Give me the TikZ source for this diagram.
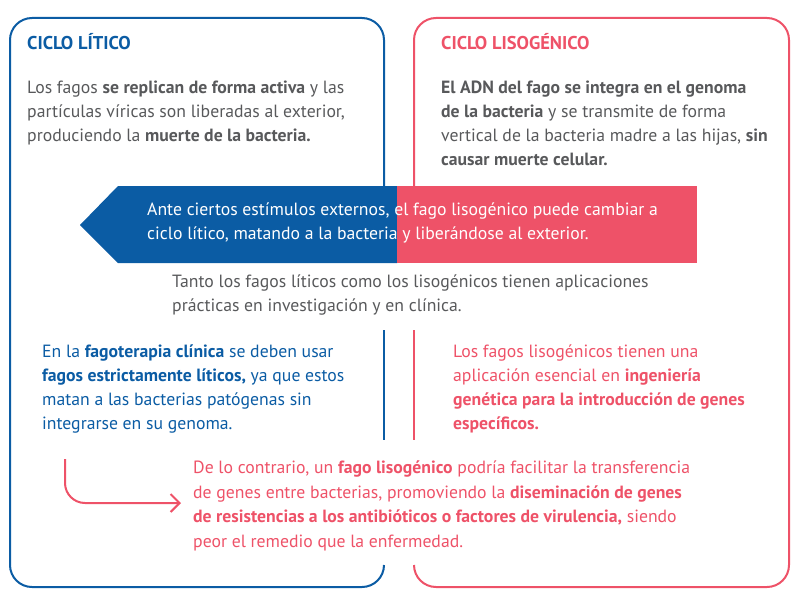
\documentclass[tikz,border=0pt]{standalone}
\usepackage{fontspec}
\setmainfont{PT Sans}
\usetikzlibrary{arrows.meta}
\definecolor{cblue}{HTML}{0B5CA4}
\definecolor{cred}{HTML}{EE5268}
\definecolor{cgray}{HTML}{58595B}
\begin{document}
\begin{tikzpicture}[x=1pt,y=-1pt,
  txt/.style={anchor=base west, align=left, inner sep=0pt, font=\fontsize{17.7}{24}\selectfont},
  ttl/.style={anchor=base west, inner sep=0pt, font=\fontsize{18.5}{24}\selectfont\bfseries},
  frame/.style={line width=2pt, rounded corners=22pt}]
\useasboundingbox (0,0) rectangle (800,610);
% frames
\draw[frame, cblue] (384,186) -- (384,18) -- (10,18) -- (10,587) -- (384,587) -- (384,565);
\draw[line width=2pt, cblue] (384,330) -- (384,440);
\draw[frame, cred] (414,186) -- (414,18) -- (789,18) -- (789,587) -- (414,587) -- (414,565);
\draw[line width=2pt, cred] (414,330) -- (414,440);
% band arrow
\fill[cblue] (80,225) -- (118,186) -- (397,186) -- (397,263) -- (118,263) -- cycle;
\fill[cred] (397,186) rectangle (697,263);
% titles
\node[ttl, text=cblue] (t1) at (27,50) {CICLO LÍTICO};
\node[ttl, text=cred] (t2) at (441,50) {CICLO LISOGÉNICO};
% paragraphs (anchored at the baseline of their last line)
\node[txt, text=cgray] (p1) at (27,141) {Los fagos \textbf{se replican de forma activa} y las\\ partículas víricas son liberadas al exterior,\\ produciendo la \textbf{muerte de la bacteria.}};
\node[txt, text=cgray] (p2) at (441,165) {\textbf{El ADN del fago se integra en el genoma}\\ \textbf{de la bacteria} y se transmite de forma\\ vertical de la bacteria madre a las hijas, \textbf{sin}\\ \textbf{causar muerte celular.}};
\node[txt, text=white] (p3) at (147,239) {Ante ciertos estímulos externos, el fago lisogénico puede cambiar a\\ ciclo lítico, matando a la bacteria y liberándose al exterior.};
\node[txt, text=cgray] (p4) at (172,311) {Tanto los fagos líticos como los lisogénicos tienen aplicaciones\\ prácticas en investigación y en clínica.};
\node[txt, text=cblue] (p5) at (42,429) {En la \textbf{fagoterapia clínica} se deben usar\\ \textbf{fagos estrictamente líticos,} ya que estos\\ matan a las bacterias patógenas sin\\ integrarse en su genoma.};
\node[txt, text=cred] (p6) at (453,429) {Los fagos lisogénicos tienen una\\ aplicación esencial en \textbf{ingeniería}\\ \textbf{genética para la introducción de genes}\\ \textbf{específicos.}};
\node[txt, text=cred, font=\fontsize{17.7}{24.5}\selectfont] (p7) at (193,547) {De lo contrario, un \textbf{fago lisogénico} podría facilitar la transferencia\\ de genes entre bacterias, promoviendo la \textbf{diseminación de genes}\\ \textbf{de resistencias a los antibióticos o factores de virulencia,} siendo\\ peor el remedio que la enfermedad.};
% connector
\coordinate (cs) at (65,459);
\coordinate (ce) at (181,503);
\draw[cred, line width=2pt, rounded corners=20pt, -{Straight Barb[length=9pt,width=18pt]}] (cs) |- (ce);
\end{tikzpicture}
\end{document}
